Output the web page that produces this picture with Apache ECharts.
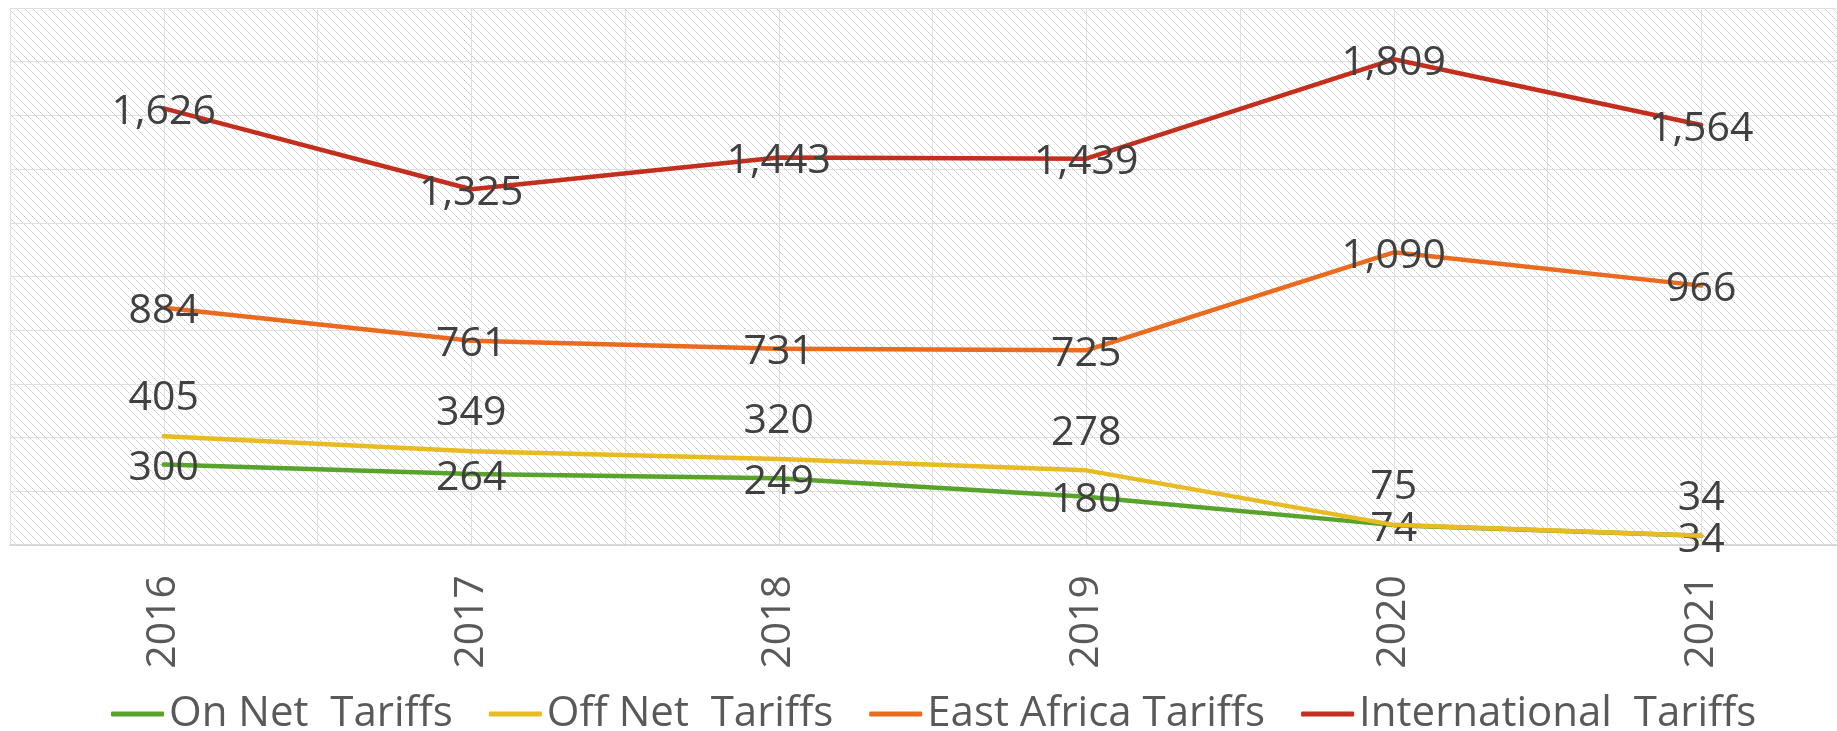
<!DOCTYPE html>
<html>
<head>
<meta charset="utf-8">
<script src="https://cdn.jsdelivr.net/npm/echarts@6/dist/echarts.min.js"></script>
<style>
html,body{margin:0;padding:0;background:#fff;}
#chart{width:1837px;height:731px;}
</style>
</head>
<body>
<div id="chart"></div>
<script>
const categories = ['2016', '2017', '2018', '2019', '2020', '2021'];
const onNet = [300, 264, 249, 180, 74, 34];
const offNet = [405, 349, 320, 278, 75, 34];
const eastAfrica = [884, 761, 731, 725, 1090, 966];
const international = [1626, 1325, 1443, 1439, 1809, 1564];
const seriesNames = ['On Net  Tariffs', 'Off Net  Tariffs', 'East Africa Tariffs', 'International  Tariffs'];
const yTicks = {min: 0, max: 2000, interval: 200};

const FONT = '"Open Sans", "Liberation Sans", sans-serif';

// hatch pattern tile
const tile = document.createElement('canvas');
tile.width = 8; tile.height = 8;
const tctx = tile.getContext('2d');
tctx.fillStyle = '#ffffff';
tctx.fillRect(0, 0, 8, 8);
for (let k = 0; k < 8; k++) {
  tctx.fillStyle = (k % 2 === 0) ? '#c6c6c6' : '#e2e2e2';
  tctx.fillRect(k, k, 1, 1);
}

function toData(arr) { return arr.map((v, i) => [i, v]); }

const colors = ['#58a42a', '#e8bb22', '#ea6a1e', '#c42e1d'];
const values = [onNet, offNet, eastAfrica, international];

const chart = echarts.init(document.getElementById('chart'), null, {renderer: 'canvas'});

const series = values.map((arr, idx) => ({
  name: seriesNames[idx],
  type: 'line',
  data: toData(arr),
  symbol: 'circle',
  symbolSize: 1,
  showSymbol: true,
  z: 2 + idx,
  lineStyle: {color: colors[idx], width: 4.5, cap: 'round', join: 'round'},
  itemStyle: {color: colors[idx]},
  emphasis: {disabled: true},
  label: {
    show: true,
    position: idx === 1 ? 'top' : 'inside',
    distance: idx === 1 ? 16 : 0,
    offset: idx === 1 ? [0, 0] : [0, 4],
    fontFamily: FONT,
    fontSize: 41,
    lineHeight: 42,
    color: '#404040',
    formatter: p => p.value[1].toLocaleString('en-US')
  }
}));

chart.setOption({
  animation: false,
  color: colors,
  grid: {
    left: 10, top: 8, width: 1845, height: 537,
    show: true,
    borderWidth: 0,
    backgroundColor: {image: tile, repeat: 'repeat'},
    containLabel: false,
    outerBoundsMode: 'none'
  },
  xAxis: {
    type: 'value',
    min: -0.5, max: 5.5, interval: 0.5,
    axisLine: {show: true, lineStyle: {color: '#d0d0d0', width: 1.5}},
    axisTick: {show: false},
    splitLine: {show: true, lineStyle: {color: '#e0e0e0', width: 1}},
    axisLabel: {
      show: true,
      rotate: 90,
      margin: 30,
      fontFamily: FONT,
      fontSize: 41,
      color: '#595959',
      showMinLabel: true, showMaxLabel: true,
      formatter: v => (Math.abs(v - Math.round(v)) < 1e-6 && categories[Math.round(v)]) ? categories[Math.round(v)] : ''
    }
  },
  yAxis: {
    type: 'value',
    min: yTicks.min, max: yTicks.max, interval: yTicks.interval,
    axisLine: {show: false},
    axisTick: {show: false},
    axisLabel: {show: false},
    splitLine: {show: true, lineStyle: {color: '#e0e0e0', width: 1}}
  },
  legend: {
    data: seriesNames,
    left: 106,
    top: 688,
    itemWidth: 53,
    itemHeight: 5,
    itemGap: 36,
    icon: 'roundRect',
    textStyle: {fontFamily: FONT, fontSize: 42, color: '#595959'}
  },
  series: series
});
</script>
</body>
</html>
